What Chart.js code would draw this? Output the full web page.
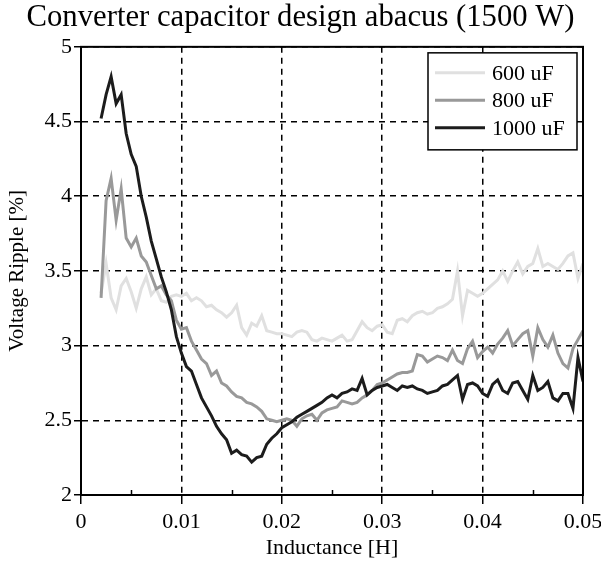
<!DOCTYPE html>
<html lang="en">
<head>
    <meta charset="UTF-8">
    <title>Converter capacitor design abacus</title>
    <style>
        body {
            margin: 0;
            background-color: #ffffff;
        }
        #chart {
            display: block;
        }
    </style>
</head>
<body>
    <canvas id="chart" width="601" height="570"></canvas>

    <script src="https://cdn.jsdelivr.net/npm/chart.js"></script>
    <script>
        // Inductance values [H] (x axis)
        const inductance = [
            0.002, 0.0025, 0.003, 0.0035, 0.004, 0.0045, 0.005, 0.0055, 0.006, 0.0065,
            0.007, 0.0075, 0.008, 0.0085, 0.009, 0.0095, 0.010, 0.0105, 0.011, 0.0115,
            0.012, 0.0125, 0.013, 0.0135, 0.014, 0.0145, 0.015, 0.0155, 0.016, 0.0165,
            0.017, 0.0175, 0.018, 0.0185, 0.019, 0.0195, 0.020, 0.0205, 0.021, 0.0215,
            0.022, 0.0225, 0.023, 0.0235, 0.024, 0.0245, 0.025, 0.0255, 0.026, 0.0265,
            0.027, 0.0275, 0.028, 0.0285, 0.029, 0.0295, 0.030, 0.0305, 0.031, 0.0315,
            0.032, 0.0325, 0.033, 0.0335, 0.034, 0.0345, 0.035, 0.0355, 0.036, 0.0365,
            0.037, 0.0375, 0.038, 0.0385, 0.039, 0.0395, 0.040, 0.0405, 0.041, 0.0415,
            0.042, 0.0425, 0.043, 0.0435, 0.044, 0.0445, 0.045, 0.0455, 0.046, 0.0465,
            0.047, 0.0475, 0.048, 0.0485, 0.049, 0.0495, 0.050
        ];

        // Voltage ripple [%] for each capacitor
        const ripple600 = [
            3.35, 3.55, 3.32, 3.24, 3.40, 3.45, 3.36, 3.25, 3.38, 3.46,
            3.34, 3.38, 3.30, 3.29, 3.33, 3.34, 3.33, 3.35, 3.30, 3.32,
            3.30, 3.26, 3.27, 3.24, 3.22, 3.19, 3.22, 3.27, 3.12, 3.07,
            3.15, 3.13, 3.20, 3.10, 3.09, 3.08, 3.08, 3.07, 3.06, 3.09,
            3.10, 3.09, 3.04, 3.03, 3.05, 3.04, 3.03, 3.05, 3.07, 3.03,
            3.04, 3.10, 3.16, 3.12, 3.10, 3.13, 3.14, 3.09, 3.08, 3.17,
            3.18, 3.16, 3.20, 3.22, 3.23, 3.21, 3.22, 3.25, 3.26, 3.28,
            3.31, 3.50, 3.20, 3.37, 3.35, 3.33, 3.35, 3.38, 3.41, 3.44,
            3.50, 3.43, 3.50, 3.56, 3.48, 3.53, 3.55, 3.65, 3.53, 3.55,
            3.53, 3.51, 3.55, 3.60, 3.62, 3.45, 3.55
        ];
        const ripple800 = [
            3.32, 3.97, 4.12, 3.84, 4.05, 3.72, 3.66, 3.72, 3.60, 3.56,
            3.47, 3.38, 3.40, 3.34, 3.30, 3.17, 3.11, 3.12, 3.03, 2.97,
            2.91, 2.88, 2.80, 2.83, 2.75, 2.73, 2.69, 2.66, 2.65, 2.62,
            2.61, 2.59, 2.56, 2.51, 2.50, 2.49, 2.50, 2.51, 2.50, 2.46,
            2.51, 2.53, 2.54, 2.50, 2.55, 2.57, 2.58, 2.59, 2.63, 2.62,
            2.61, 2.62, 2.65, 2.67, 2.70, 2.74, 2.75, 2.77, 2.79, 2.81,
            2.82, 2.82, 2.83, 2.94, 2.93, 2.89, 2.91, 2.93, 2.92, 2.90,
            2.97, 2.90, 2.88, 2.98, 3.03, 2.92, 2.96, 2.99, 2.95, 3.01,
            3.05, 3.10, 3.00, 3.04, 3.08, 3.10, 2.93, 3.12, 3.04, 2.99,
            3.07, 2.95, 2.88, 2.85, 2.98, 3.04, 3.10
        ];
        const ripple1000 = [
            4.52, 4.68, 4.80, 4.62, 4.68, 4.42, 4.28, 4.20, 4.00, 3.86,
            3.70, 3.58, 3.46, 3.36, 3.24, 3.06, 2.95, 2.86, 2.83, 2.74,
            2.65, 2.59, 2.53, 2.46, 2.41, 2.37, 2.28, 2.30, 2.27, 2.26,
            2.22, 2.25, 2.26, 2.34, 2.38, 2.41, 2.45, 2.47, 2.49, 2.52,
            2.54, 2.56, 2.58, 2.60, 2.62, 2.65, 2.67, 2.65, 2.68, 2.69,
            2.71, 2.70, 2.78, 2.67, 2.70, 2.72, 2.73, 2.74, 2.72, 2.70,
            2.73, 2.72, 2.73, 2.71, 2.70, 2.68, 2.69, 2.70, 2.73, 2.74,
            2.77, 2.80, 2.64, 2.74, 2.75, 2.73, 2.68, 2.66, 2.74, 2.77,
            2.70, 2.68, 2.75, 2.76, 2.70, 2.64, 2.80, 2.70, 2.72, 2.76,
            2.65, 2.63, 2.68, 2.68, 2.58, 2.92, 2.76
        ];

        const seriesLabels = ['600 uF', '800 uF', '1000 uF'];
        const seriesColors = ['#e0e0e0', '#999999', '#1c1c1c'];

        const serif = '"Liberation Serif", "Times New Roman", serif';
        Chart.defaults.font.family = serif;
        Chart.defaults.color = '#000000';

        function points(values) {
            return inductance.map((x, i) => ({ x: x, y: values[i] }));
        }

        // box around the plot + small inner ticks on the x axis
        const frame = {
            id: 'frame',
            afterDatasetsDraw(chart) {
                const { ctx, chartArea } = chart;
                const xs = chart.scales.x;
                ctx.save();
                ctx.strokeStyle = '#000';
                ctx.lineWidth = 1.5;
                for (let v = 0.005; v < 0.05; v += 0.01) {
                    const px = Math.round(xs.getPixelForValue(v)) + 0.5;
                    ctx.beginPath();
                    ctx.moveTo(px, chartArea.bottom);
                    ctx.lineTo(px, chartArea.bottom - 5);
                    ctx.stroke();
                }
                ctx.lineWidth = 2;
                ctx.strokeRect(chartArea.left, chartArea.top,
                    chartArea.right - chartArea.left, chartArea.bottom - chartArea.top);
                ctx.restore();
            }
        };

        // legend box in the upper right corner of the plot
        const boxLegend = {
            id: 'boxLegend',
            afterDraw(chart) {
                const { ctx, chartArea } = chart;
                const w = 149, h = 97;
                const x = chartArea.right - w - 6;
                const y = chartArea.top + 6;
                ctx.save();
                ctx.fillStyle = '#fff';
                ctx.fillRect(x, y, w, h);
                ctx.strokeStyle = '#000';
                ctx.lineWidth = 1.5;
                ctx.strokeRect(x, y, w, h);
                ctx.font = '22px ' + serif;
                ctx.textBaseline = 'middle';
                ctx.textAlign = 'left';
                seriesLabels.forEach((label, i) => {
                    const ly = y + 20 + i * 27.5;
                    ctx.strokeStyle = seriesColors[i];
                    ctx.lineWidth = 3;
                    ctx.beginPath();
                    ctx.moveTo(x + 7, ly);
                    ctx.lineTo(x + 57, ly);
                    ctx.stroke();
                    ctx.fillStyle = '#000';
                    ctx.fillText(label, x + 64, ly + 1);
                });
                ctx.restore();
            }
        };

        const ctx = document.getElementById('chart').getContext('2d');
        const chart = new Chart(ctx, {
            type: 'line',
            data: {
                datasets: [
                    { label: seriesLabels[0], data: points(ripple600), borderColor: seriesColors[0], order: 2 },
                    { label: seriesLabels[1], data: points(ripple800), borderColor: seriesColors[1], order: 1 },
                    { label: seriesLabels[2], data: points(ripple1000), borderColor: seriesColors[2], order: 0 }
                ]
            },
            options: {
                responsive: false,
                animation: false,
                layout: { padding: 0 },
                elements: {
                    line: { borderWidth: 3, tension: 0, fill: false },
                    point: { radius: 0 }
                },
                plugins: {
                    legend: { display: false },
                    tooltip: { enabled: false },
                    title: {
                        display: true,
                        text: 'Converter capacitor design abacus (1500 W)',
                        font: { size: 30.7, weight: 'normal' },
                        color: '#000',
                        padding: { top: 0, bottom: 10 }
                    }
                },
                scales: {
                    x: {
                        type: 'linear',
                        min: 0,
                        max: 0.05,
                        afterFit(scale) {
                            scale.height = 75;
                            scale.paddingRight = 18;
                            scale.paddingLeft = 0;
                        },
                        ticks: {
                            stepSize: 0.01,
                            font: { size: 22 },
                            color: '#000',
                            padding: 5,
                            maxRotation: 0,
                            callback: (v) => String(+v.toFixed(3))
                        },
                        grid: {
                            color: '#000',
                            lineWidth: 1.5,
                            tickLength: 9,
                            tickColor: '#000',
                            tickWidth: 1.5
                        },
                        border: { display: true, color: '#000', width: 2, dash: [6, 5] },
                        title: {
                            display: true,
                            text: 'Inductance [H]',
                            font: { size: 22 },
                            color: '#000',
                            padding: { top: 0, bottom: 9 }
                        }
                    },
                    y: {
                        type: 'linear',
                        min: 2,
                        max: 5,
                        afterFit(scale) { scale.width = 81; },
                        ticks: {
                            stepSize: 0.5,
                            font: { size: 22 },
                            color: '#000',
                            padding: 2,
                            callback: (v) => String(+v.toFixed(2))
                        },
                        grid: {
                            color: '#000',
                            lineWidth: 1.5,
                            tickLength: 7,
                            tickColor: '#000',
                            tickWidth: 1.5
                        },
                        border: { display: true, color: '#000', width: 2, dash: [6, 5] },
                        title: {
                            display: true,
                            text: 'Voltage Ripple [%]',
                            font: { size: 21 },
                            color: '#000',
                            padding: { top: 5, bottom: 0 }
                        }
                    }
                }
            },
            plugins: [frame, boxLegend]
        });
    </script>
</body>
</html>
